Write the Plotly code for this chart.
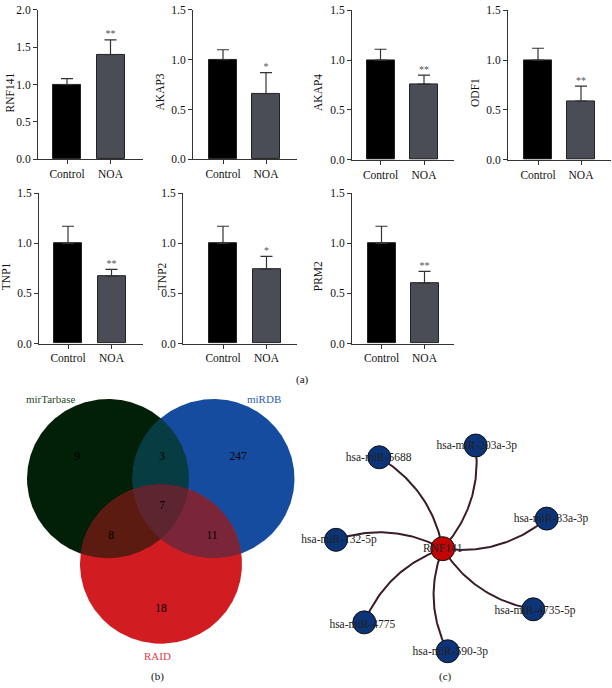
import numpy as np
import plotly.graph_objects as go

FONT = "Liberation Serif, Times New Roman, serif"

# ---------------- data ----------------
genes = ["RNF141", "AKAP3", "AKAP4", "ODF1", "TNP1", "TNP2", "PRM2"]
groups = ["Control", "NOA"]
ctrl_mean = [1.0, 1.0, 1.0, 1.0, 1.0, 1.0, 1.0]
ctrl_err = [0.08, 0.10, 0.11, 0.12, 0.17, 0.17, 0.17]
noa_mean = [1.40, 0.66, 0.76, 0.59, 0.67, 0.74, 0.60]
noa_err = [0.20, 0.21, 0.09, 0.15, 0.07, 0.13, 0.12]
signif = ["**", "*", "**", "**", "**", "*", "**"]
y_max = [2.0, 1.5, 1.5, 1.5, 1.5, 1.5, 1.5]

venn_sets = ["mirTarbase", "miRDB", "RAID"]
venn_counts = {"A": 9, "B": 247, "C": 18, "AB": 3, "AC": 8, "BC": 11, "ABC": 7}

hub = "RNF141"
mirnas = ["hsa-miR-5688", "hsa-miR-203a-3p", "hsa-miR-33a-3p", "hsa-miR-4735-5p",
          "hsa-miR-590-3p", "hsa-miR-4775", "hsa-miR-132-5p"]

# ---------------- layout (pixels) ----------------
W, H = 612, 688
# per panel: axis left px, axis right px, control centre px, NOA centre px, top px, bottom px, title x px
panels = [
    (38, 143, 67, 110.5, 4, 156, 10),
    (193, 297, 223, 266, 4, 156, 160),
    (352, 454, 380.5, 424, 4.5, 156.5, 318),
    (508, 611, 538, 581, 4.5, 156.5, 475),
    (39, 143, 68, 111.5, 190.5, 343.5, 6),
    (183, 297, 223, 266.5, 190.5, 343.5, 162),
    (352, 454, 381.5, 424.5, 190.5, 343.5, 318),
]

fig = go.Figure()
annotations = []
BLACK = "#000000"
GREY = "#4a4d55"
AX = "#333333"

for i, g in enumerate(genes):
    left, right, cc, nc, top, bot, tx = panels[i]
    scale = nc - cc
    rng = [(left - cc) / scale, (right - cc) / scale]
    bw = 28 / scale
    n = "" if i == 0 else str(i + 1)
    xa, ya = "x" + n, "y" + n
    fig.add_trace(go.Bar(
        x=[0, 1], y=[ctrl_mean[i], noa_mean[i]], width=bw,
        marker=dict(color=[BLACK, GREY], line=dict(color="#222222", width=1)),
        error_y=dict(type="data", symmetric=False, array=[ctrl_err[i], noa_err[i]],
                     arrayminus=[0, 0], visible=True,
                     color="#333333", thickness=1.2, width=6),
        xaxis=xa, yaxis=ya, showlegend=False, hoverinfo="skip"))
    fig.add_trace(go.Scatter(
        x=[1], y=[noa_mean[i] + noa_err[i]], mode="text", text=[signif[i]],
        textposition="top center", textfont=dict(family=FONT, size=10, color="#555555"),
        cliponaxis=False,
        xaxis=xa, yaxis=ya, showlegend=False, hoverinfo="skip"))
    fig.layout["xaxis" + n] = dict(
        domain=[left / W, right / W], range=rng, anchor=ya,
        tickmode="array", tickvals=[0, 1], ticktext=groups,
        showline=True, linecolor=AX, linewidth=1, ticks="outside", ticklen=4,
        tickcolor=AX, showgrid=False, zeroline=False, fixedrange=True,
        tickfont=dict(family=FONT, size=11.5, color="#111111"))
    fig.layout["yaxis" + n] = dict(
        domain=[1 - bot / H, 1 - top / H], range=[0, y_max[i]], anchor=xa,
        tickvals=list(np.arange(0, y_max[i] + 0.01, 0.5)), tickformat=".1f",
        showline=True, linecolor=AX, linewidth=1, ticks="outside", ticklen=4,
        tickcolor=AX, showgrid=False, zeroline=False, fixedrange=True,
        tickfont=dict(family=FONT, size=11.5, color="#111111"))
    annotations.append(dict(
        x=tx / W, y=1 - ((top + bot) / 2 + 8) / H, xref="paper", yref="paper",
        xanchor="center", yanchor="middle",
        text=g, textangle=-90, showarrow=False,
        font=dict(family=FONT, size=11.5, color="#111111")))

annotations.append(dict(x=302 / W, y=1 - 380 / H, xref="paper", yref="paper", text="(a)",
                        xanchor="center", yanchor="middle",
                        showarrow=False, font=dict(family=FONT, size=11, color="#111111")))

# ---------------- Venn (b) ----------------
circles = {"A": (108, 481, 81), "B": (213.5, 481, 81), "C": (161, 568, 81)}
region_col = {"A": "#021f08", "B": "#164ca0", "C": "#d11d22",
              "AB": "#063c42", "AC": "#5c1b10", "BC": "#7b2538", "ABC": "#5c2530"}


def region_poly(keys):
    pts = []
    for k in keys:
        cx, cy, r = circles[k]
        t = np.linspace(0, 2 * np.pi, 720, endpoint=False)
        xs, ys = cx + r * np.cos(t), cy + r * np.sin(t)
        ok = np.ones_like(xs, dtype=bool)
        for o in keys:
            if o == k:
                continue
            ox, oy, orr = circles[o]
            ok &= (xs - ox) ** 2 + (ys - oy) ** 2 <= orr ** 2 + 1e-6
        pts += list(zip(xs[ok], ys[ok]))
    pts = np.array(pts)
    mx, my = pts[:, 0].mean(), pts[:, 1].mean()
    order = np.argsort(np.arctan2(pts[:, 1] - my, pts[:, 0] - mx))
    pts = pts[order]
    return list(pts[:, 0]) + [pts[0, 0]], list(pts[:, 1]) + [pts[0, 1]]


for keys in ["A", "B", "C", "AB", "AC", "BC", "ABC"]:
    px, py = region_poly(list(keys))
    fig.add_trace(go.Scatter(x=px, y=py, mode="lines", fill="toself",
                             fillcolor=region_col[keys], line=dict(width=0, color=region_col[keys]),
                             xaxis="x8", yaxis="y8", showlegend=False, hoverinfo="skip"))

label_pos = {"A": (77, 459), "AB": (162, 459), "B": (238, 459), "ABC": (162, 509),
             "AC": (111, 540), "BC": (212, 540), "C": (161, 614)}
keys_order = list(label_pos.keys())
fig.add_trace(go.Scatter(
    x=[label_pos[k][0] for k in keys_order], y=[label_pos[k][1] for k in keys_order],
    mode="text", text=[str(venn_counts[k]) for k in keys_order],
    textfont=dict(family=FONT, size=11.5, color="#000000"),
    xaxis="x8", yaxis="y8", showlegend=False, hoverinfo="skip"))

set_label = [(50, 400, "#1f4a25"), (264, 400, "#2d5fb0"), (157, 662, "#e0404a")]
for name, (lx, ly, col) in zip(venn_sets, set_label):
    annotations.append(dict(x=lx, y=ly, xref="x8", yref="y8", text=name, showarrow=False,
                            xanchor="center", yanchor="middle",
                            font=dict(family=FONT, size=11, color=col)))
annotations.append(dict(x=157, y=682, xref="x8", yref="y8", text="(b)", showarrow=False,
                        xanchor="center", yanchor="middle",
                        font=dict(family=FONT, size=11, color="#111111")))

fig.layout["xaxis8"] = dict(domain=[0, 310 / W], range=[0, 310], visible=False, fixedrange=True)
fig.layout["yaxis8"] = dict(domain=[0, 1 - 390 / H], range=[688, 390], visible=False,
                            anchor="x8", fixedrange=True)

# ---------------- network (c) ----------------
hub_xy = (442.7, 552.3)
node_xy = [(379.3, 459.3), (475.7, 447.3), (546.7, 521.7), (533.3, 614),
           (447.7, 656.7), (364.3, 627.3), (336, 543.3)]
label_xy = [(378.7, 460), (476.7, 447.7), (551, 522.7), (535, 615.7),
            (450.3, 658), (362.3, 630), (339, 544)]

tt = np.linspace(0, 1, 60)
for (nx, ny) in node_xy:
    x0, y0 = hub_xy
    dx, dy = nx - x0, ny - y0
    cx = (x0 + nx) / 2 - 0.22 * dy
    cy = (y0 + ny) / 2 + 0.22 * dx
    bx = (1 - tt) ** 2 * x0 + 2 * (1 - tt) * tt * cx + tt ** 2 * nx
    by = (1 - tt) ** 2 * y0 + 2 * (1 - tt) * tt * cy + tt ** 2 * ny
    fig.add_trace(go.Scatter(x=bx, y=by, mode="lines", line=dict(color="#3b1a2a", width=2),
                             xaxis="x9", yaxis="y9", showlegend=False, hoverinfo="skip"))

fig.add_trace(go.Scatter(
    x=[p[0] for p in node_xy], y=[p[1] for p in node_xy], mode="markers",
    marker=dict(size=23, color="#0b3479", line=dict(color="#111111", width=1)),
    cliponaxis=False,
    xaxis="x9", yaxis="y9", showlegend=False, hoverinfo="skip"))
fig.add_trace(go.Scatter(
    x=[hub_xy[0]], y=[hub_xy[1]], mode="markers",
    marker=dict(size=24, color="#c10505", line=dict(color="#111111", width=1)),
    xaxis="x9", yaxis="y9", showlegend=False, hoverinfo="skip"))
fig.add_trace(go.Scatter(
    x=[p[0] for p in label_xy] + [hub_xy[0]], y=[p[1] for p in label_xy] + [hub_xy[1]],
    mode="text", text=mirnas + [hub], cliponaxis=False,
    textfont=dict(family=FONT, size=11.5, color="#222222"),
    xaxis="x9", yaxis="y9", showlegend=False, hoverinfo="skip"))
annotations.append(dict(x=445, y=682, xref="x9", yref="y9", text="(c)", showarrow=False,
                        xanchor="center", yanchor="middle",
                        font=dict(family=FONT, size=11, color="#111111")))

fig.layout["xaxis9"] = dict(domain=[310 / W, 1], range=[310, 612], visible=False, fixedrange=True)
fig.layout["yaxis9"] = dict(domain=[0, 1 - 400 / H], range=[688, 400], visible=False,
                            anchor="x9", fixedrange=True)

fig.update_layout(width=W, height=H, margin=dict(l=0, r=0, t=0, b=0),
                  paper_bgcolor="white", plot_bgcolor="white",
                  annotations=annotations, bargap=0,
                  font=dict(family=FONT, size=11, color="#111111"))
fig.write_html("out.html", config={"displayModeBar": False},
               post_script="document.body.style.margin='0px';document.body.style.padding='0px';"
                           "document.body.style.overflow='hidden';")
